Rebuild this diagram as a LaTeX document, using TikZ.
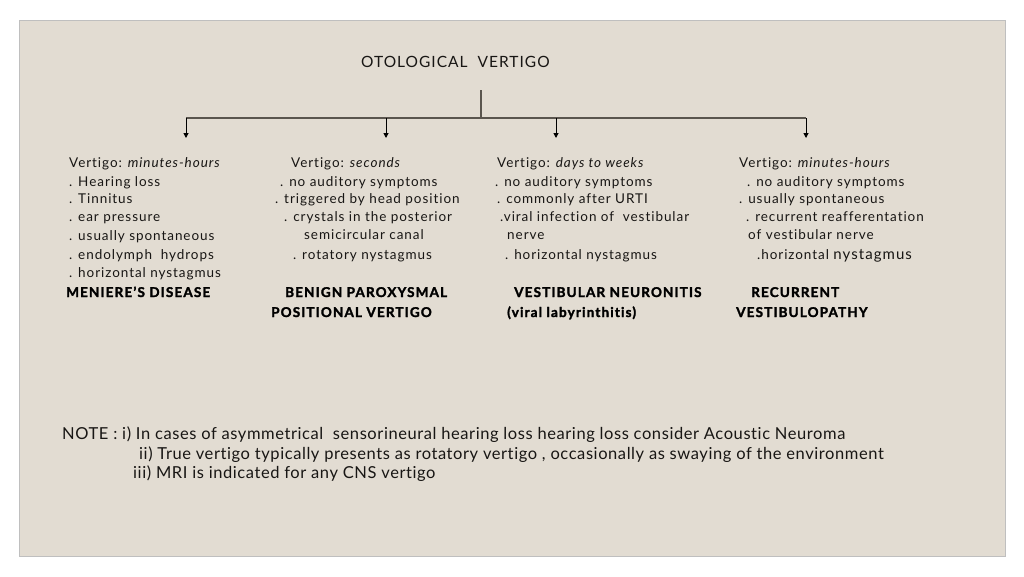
\documentclass[tikz,border=0pt]{standalone}
\usepackage{fontspec}
\setmainfont[Ligatures={NoCommon}]{Lato}
\newfontfamily\bodyf[Ligatures={NoCommon},LetterSpace=7]{Lato}
\newfontfamily\notef[Ligatures={NoCommon},LetterSpace=3.5]{Lato}
\newfontfamily\titlef[Ligatures={NoCommon},LetterSpace=6.5]{Lato}
\newfontfamily\headf[Ligatures={NoCommon},LetterSpace=8.5,BoldFeatures={FakeBold=2}]{Lato}
\usetikzlibrary{arrows.meta}
\definecolor{bgc}{HTML}{E2DCD2}
\definecolor{txt}{HTML}{181614}
\definecolor{linec}{HTML}{5A554E}
\tikzset{
  body/.style={anchor=base west, inner sep=0pt, text=txt, font=\bodyf\fontsize{13.5}{16}\selectfont},
  head/.style={anchor=base west, inner sep=0pt, text=black, font=\headf\fontsize{13.5}{16}\selectfont\bfseries},
  note/.style={anchor=base west, inner sep=0pt, text=txt, font=\notef\fontsize{16.5}{19}\selectfont},
  conn/.style={draw=linec, line width=1.1pt},
  arr/.style={draw=black, line width=1pt, -{Triangle[length=5pt,width=5pt]}}
}
\begin{document}
\begin{tikzpicture}[x=1pt,y=-1pt]
\useasboundingbox (0,0) rectangle (1024,576);
\fill[white] (0,0) rectangle (1024,576);
\filldraw[fill=bgc, draw=black!25, line width=0.8pt] (19,20) rectangle (1005,556);

% title
\node[anchor=base west, inner sep=0pt, text=txt, font=\titlef\fontsize{15.5}{18}\selectfont] (title) at (361,67) {OTOLOGICAL\ \ VERTIGO};

% connectors
\coordinate (top) at (481,90);
\coordinate (j) at (481,118);
\coordinate (b1) at (186,118);
\coordinate (b2) at (386,118);
\coordinate (b3) at (556,118);
\coordinate (b4) at (806,118);
\coordinate (a1) at (186,138);
\coordinate (a2) at (386,138);
\coordinate (a3) at (556,138);
\coordinate (a4) at (806,138);
\draw[conn] (top) -- (j);
\draw[conn] (b1) -- (b4);
\draw[arr] (b1) -- (a1);
\draw[arr] (b2) -- (a2);
\draw[arr] (b3) -- (a3);
\draw[arr] (b4) -- (a4);

% column 1
\node[body] (c1l1) at (69,167) {Vertigo: \textit{minutes-hours}};
\node[body] (c1l2) at (69,186) {. Hearing loss};
\node[body] (c1l3) at (69,203) {. Tinnitus};
\node[body] (c1l4) at (69,221) {. ear pressure};
\node[body] (c1l5) at (69,240) {. usually spontaneous};
\node[body] (c1l6) at (69,259) {. endolymph\ \ hydrops};
\node[body] (c1l7) at (69,277) {. horizontal nystagmus};
\node[head] (c1h) at (66,297) {MENIERE’S DISEASE};

% column 2
\node[body] (c2l1) at (291,167) {Vertigo: \textit{seconds}};
\node[body] (c2l2) at (280,186) {. no auditory symptoms};
\node[body] (c2l3) at (275,203) {. triggered by head position};
\node[body] (c2l4) at (284,221) {. crystals in the posterior};
\node[body] (c2l5) at (304,239) {semicircular canal};
\node[body] (c2l6) at (293,259) {. rotatory nystagmus};
\node[head] (c2h1) at (285,297) {BENIGN PAROXYSMAL};
\node[head] (c2h2) at (271,317) {POSITIONAL VERTIGO};

% column 3
\node[body] (c3l1) at (497,167) {Vertigo: \textit{days to weeks}};
\node[body] (c3l2) at (495,186) {. no auditory symptoms};
\node[body] (c3l3) at (497,203) {. commonly after URTI};
\node[body] (c3l4) at (500,221) {.viral infection of\ \ vestibular};
\node[body] (c3l5) at (507,239) {nerve};
\node[body] (c3l6) at (505,259) {. horizontal nystagmus};
\node[head] (c3h1) at (514,297) {VESTIBULAR NEURONITIS};
\node[head] (c3h2) at (507,317) {(viral labyrinthitis)};

% column 4
\node[body] (c4l1) at (739,167) {Vertigo: \textit{minutes-hours}};
\node[body] (c4l2) at (747,186) {. no auditory symptoms};
\node[body] (c4l3) at (739,203) {. usually spontaneous};
\node[body] (c4l4) at (746,221) {. recurrent reafferentation};
\node[body] (c4l5) at (748,239) {of vestibular nerve};
\node[body] (c4l6) at (757,259) {.horizontal {\fontsize{15}{17}\selectfont nystagmus}};
\node[head] (c4h1) at (751,297) {RECURRENT};
\node[head] (c4h2) at (736,317) {VESTIBULOPATHY};

% notes
\node[note] (n1) at (62,439) {NOTE : i) In cases of asymmetrical\ \ sensorineural hearing loss hearing loss consider Acoustic Neuroma};
\node[note] (n2) at (139,459) {ii) True vertigo typically presents as rotatory vertigo , occasionally as swaying of the environment};
\node[note] (n3) at (133,478) {iii) MRI is indicated for any CNS vertigo};
\end{tikzpicture}
\end{document}
